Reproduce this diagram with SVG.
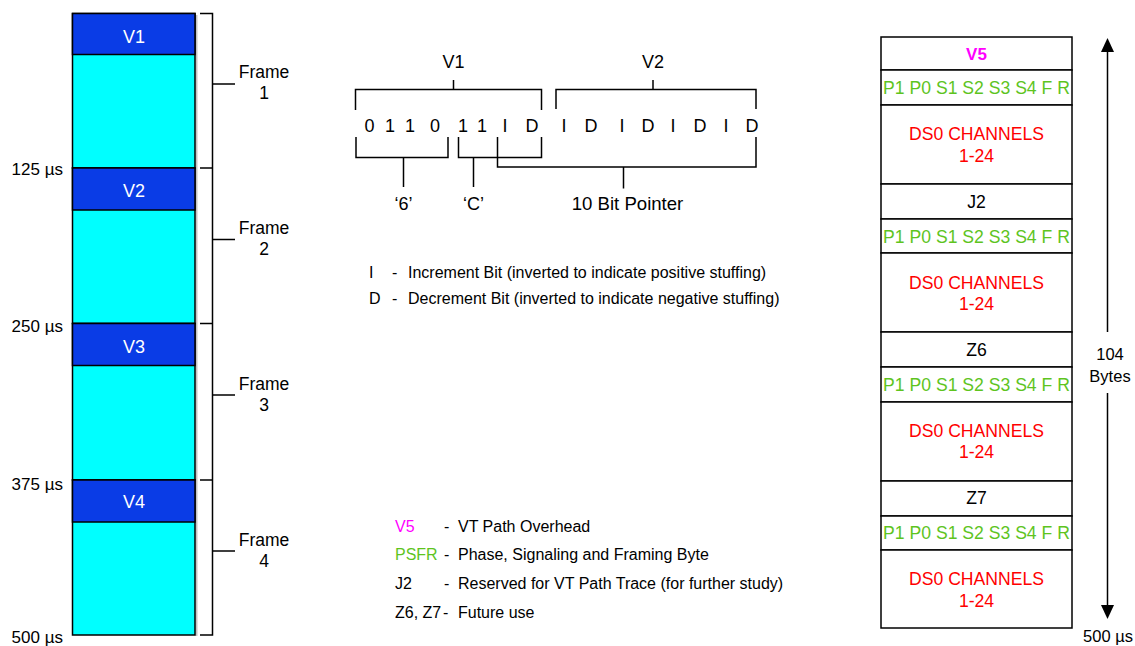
<svg xmlns="http://www.w3.org/2000/svg" width="1135" height="646" viewBox="0 0 1135 646">
<style>
text{font-family:"Liberation Sans",Arial,sans-serif;fill:#000}
.lbl{font-size:17px}
.fr{font-size:17.5px}
.v{font-size:18px;fill:#fff;text-anchor:middle}
.c{text-anchor:middle}
.b18{font-size:18px}
.leg{font-size:16px}
.ps{font-size:17.6px;fill:#5ec41e;text-anchor:middle}
.ds{font-size:17.6px;fill:#ff0000;text-anchor:middle}
.blk{font-size:17.6px;text-anchor:middle}
.cyan{fill:#00ffff;stroke:#000;stroke-width:1.5}
.blue{fill:#0a3ce6;stroke:#000;stroke-width:1.5}
.cell{fill:#fff;stroke:#000;stroke-width:1.5}
.ln{stroke:#000;stroke-width:1.5;fill:none}
</style>
<defs>
<marker id="arr" markerWidth="14" markerHeight="13" refX="0" refY="6.5" orient="auto" markerUnits="userSpaceOnUse"><path d="M0,0 L14,6.5 L0,13 z" fill="#000"/></marker>
</defs>

<!-- left column: 4 frames -->
<line x1="196.5" y1="15" x2="196.5" y2="636" stroke="#c4c4c4" stroke-width="2"/>
<g id="frame1">
<rect class="cyan" x="72.5" y="13.5" width="122.5" height="154.5"/>
<rect class="blue" x="72.5" y="13.5" width="122.5" height="41"/>
<text class="v" x="134" y="42.5">V1</text>
</g>
<g id="frame2">
<rect class="cyan" x="72.5" y="168" width="122.5" height="155.5"/>
<rect class="blue" x="72.5" y="168" width="122.5" height="42"/>
<text class="v" x="134" y="196.5">V2</text>
</g>
<g id="frame3">
<rect class="cyan" x="72.5" y="323.5" width="122.5" height="156.5"/>
<rect class="blue" x="72.5" y="323.5" width="122.5" height="42"/>
<text class="v" x="134" y="353">V3</text>
</g>
<g id="frame4">
<rect class="cyan" x="72.5" y="480" width="122.5" height="155"/>
<rect class="blue" x="72.5" y="480" width="122.5" height="42"/>
<text class="v" x="134" y="508">V4</text>
</g>

<g id="time-labels" class="lbl" text-anchor="end">
<text x="63" y="175">125 µs</text>
<text x="63" y="331.5">250 µs</text>
<text x="63" y="490">375 µs</text>
<text x="63" y="643">500 µs</text>
</g>

<g id="frame-labels" class="fr" text-anchor="middle">
<text x="264" y="78">Frame</text><text x="264" y="99">1</text>
<text x="264" y="233.5">Frame</text><text x="264" y="254.5">2</text>
<text x="264" y="390">Frame</text><text x="264" y="411">3</text>
<text x="264" y="546">Frame</text><text x="264" y="567">4</text>
</g>

<!-- connectors / brackets -->
<g id="connectors" class="ln">
<path d="M200,13.5 H212.5 V635 H200"/>
<path d="M200,168 H212.5 M200,323.5 H212.5 M200,480 H212.5"/>
<path d="M212.5,84 H235 M212.5,239.5 H235 M212.5,395 H235 M212.5,551 H235"/>
<path d="M355.5,110 V89.5 H541.5 V110 M453.5,89.5 V80"/>
<path d="M556,109 V89.5 H756 V109 M653,89.5 V80"/>
<path d="M356,137 V157.5 H448 V137 M403.5,157.5 V187"/>
<path d="M458.5,137 V157.5 H541.5 V137 M473.5,157.5 V187"/>
<path d="M497.5,137 V167 H756 V137 M623.5,167 V188.5"/>
<line x1="1107.5" y1="332" x2="1107.5" y2="52" marker-end="url(#arr)"/>
<line x1="1107.5" y1="393" x2="1107.5" y2="605" marker-end="url(#arr)"/>
</g>

<g id="bit-layout" class="b18" text-anchor="middle">
<text x="453.5" y="68">V1</text>
<text x="653" y="68">V2</text>
<text x="369.5" y="132">0</text>
<text x="390" y="132">1</text>
<text x="410" y="132">1</text>
<text x="435" y="132">0</text>
<text x="463" y="132">1</text>
<text x="482" y="132">1</text>
<text x="505" y="132">I</text>
<text x="532" y="132">D</text>
<text x="564" y="132">I</text>
<text x="591" y="132">D</text>
<text x="622" y="132">I</text>
<text x="648" y="132">D</text>
<text x="673" y="132">I</text>
<text x="700" y="132">D</text>
<text x="726" y="132">I</text>
<text x="752" y="132">D</text>
<text x="403.5" y="210">‘6’</text>
<text x="473.5" y="210">‘C’</text>
<text x="627.5" y="210" style="font-size:18.6px">10 Bit Pointer</text>
</g>

<g id="bit-legend" class="leg">
<text x="369" y="278">I</text><text x="392" y="278">-</text><text x="408" y="278">Increment Bit (inverted to indicate positive stuffing)</text>
<text x="369" y="304">D</text><text x="392" y="304">-</text><text x="408" y="304">Decrement Bit (inverted to indicate negative stuffing)</text>
</g>

<g id="overhead-legend" class="leg">
<text x="395" y="532" style="fill:#ff00ff">V5</text><text x="444" y="532">-</text><text x="458" y="532">VT Path Overhead</text>
<text x="395" y="560" style="fill:#5ec41e">PSFR</text><text x="444" y="560">-</text><text x="458" y="560">Phase, Signaling and Framing Byte</text>
<text x="395" y="588.5">J2</text><text x="444" y="588.5">-</text><text x="458" y="588.5">Reserved for VT Path Trace (for further study)</text>
<text x="395" y="617.5">Z6, Z7</text><text x="443" y="617.5">-</text><text x="458" y="617.5">Future use</text>
</g>

<!-- right column: 500 µs superframe -->
<g id="block-v5">
<rect class="cell" x="881" y="37" width="191" height="33"/>
<text class="blk" x="976.5" y="59.5" style="fill:#ff00ff;font-weight:bold;font-size:17px">V5</text>
<rect class="cell" x="881" y="70" width="191" height="35"/>
<text class="ps" x="976.5" y="94">P1 P0 S1 S2 S3 S4 F R</text>
<rect class="cell" x="881" y="105" width="191" height="79"/>
<text class="ds" x="976.5" y="140">DS0 CHANNELS</text><text class="ds" x="976.5" y="161.5">1-24</text>
</g>
<g id="block-j2">
<rect class="cell" x="881" y="184" width="191" height="35"/>
<text class="blk" x="976.5" y="207.5">J2</text>
<rect class="cell" x="881" y="219" width="191" height="34"/>
<text class="ps" x="976.5" y="242.5">P1 P0 S1 S2 S3 S4 F R</text>
<rect class="cell" x="881" y="253" width="191" height="79"/>
<text class="ds" x="976.5" y="289">DS0 CHANNELS</text><text class="ds" x="976.5" y="310">1-24</text>
</g>
<g id="block-z6">
<rect class="cell" x="881" y="332" width="191" height="35"/>
<text class="blk" x="976.5" y="356">Z6</text>
<rect class="cell" x="881" y="367" width="191" height="35"/>
<text class="ps" x="976.5" y="391">P1 P0 S1 S2 S3 S4 F R</text>
<rect class="cell" x="881" y="402" width="191" height="79"/>
<text class="ds" x="976.5" y="437">DS0 CHANNELS</text><text class="ds" x="976.5" y="458">1-24</text>
</g>
<g id="block-z7">
<rect class="cell" x="881" y="481" width="191" height="35"/>
<text class="blk" x="976.5" y="504">Z7</text>
<rect class="cell" x="881" y="516" width="191" height="34"/>
<text class="ps" x="976.5" y="539">P1 P0 S1 S2 S3 S4 F R</text>
<rect class="cell" x="881" y="550" width="191" height="78"/>
<text class="ds" x="976.5" y="585">DS0 CHANNELS</text><text class="ds" x="976.5" y="606.5">1-24</text>
</g>

<g id="duration-label" style="font-size:16.5px" text-anchor="middle">
<text x="1110" y="360">104</text>
<text x="1110" y="382">Bytes</text>
<text x="1108" y="642">500 µs</text>
</g>
</svg>
